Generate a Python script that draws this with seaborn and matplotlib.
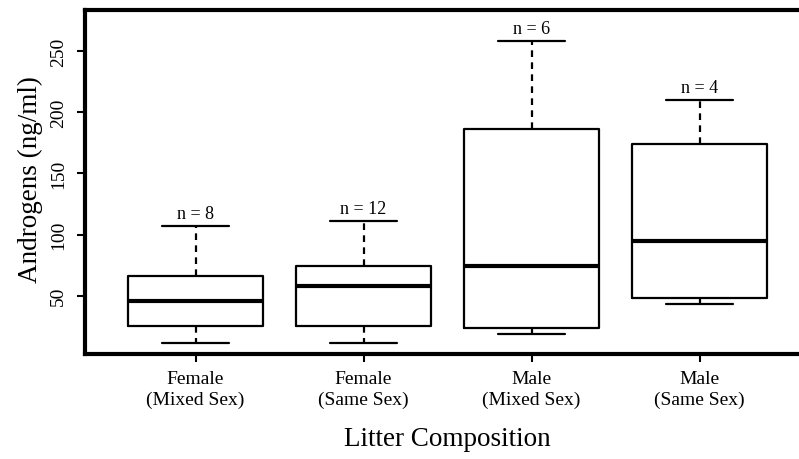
import matplotlib
matplotlib.use("Agg")
import matplotlib.pyplot as plt
import seaborn as sns
import pandas as pd

# Five-number summaries
groups = ["Female\n(Mixed Sex)", "Female\n(Same Sex)", "Male\n(Mixed Sex)", "Male\n(Same Sex)"]
whisker_low = [11, 11, 19, 43]
q1 = [25, 25, 24, 48]
median = [46, 58, 74, 95]
q3 = [66, 74, 186, 174]
whisker_high = [107, 111, 258, 210]
n_labels = ["n = 8", "n = 12", "n = 6", "n = 4"]
y_ticks = [50, 100, 150, 200, 250]

rows = []
for g, a, b, c, d, e in zip(groups, whisker_low, q1, median, q3, whisker_high):
    for v in (a, b, c, d, e):
        rows.append({"group": g, "value": v})
df = pd.DataFrame(rows)

sns.set_theme(style="white")
plt.rcParams["font.family"] = ["Liberation Serif", "DejaVu Serif"]
plt.rcParams["text.color"] = "black"
plt.rcParams["axes.labelcolor"] = "black"
plt.rcParams["xtick.color"] = "black"
plt.rcParams["ytick.color"] = "black"

fig = plt.figure(figsize=(7.99, 4.6), dpi=100)
W, H = 799, 460
left, right, top, bottom = 84.7, 810.4, 11, 355
ax = fig.add_axes([left / W, 1 - bottom / H, (right - left) / W, (bottom - top) / H])

sns.boxplot(data=df, x="group", y="value", order=groups, ax=ax,
            color="black", fill=False, width=0.8, whis=(0, 100),
            linewidth=1.6, linecolor="black",
            whiskerprops=dict(linestyle=(0, (3.0, 2.4)), linewidth=1.6),
            medianprops=dict(linewidth=3.0, color="black"),
            capprops=dict(linewidth=1.6),
            showfliers=False)

for i, (top_v, lab) in enumerate(zip(whisker_high, n_labels)):
    ax.annotate(lab, xy=(i, top_v), xytext=(0, 3), textcoords="offset points",
                ha="center", va="bottom", fontsize=13, color="black")

ax.set_xlim(-0.66, 3.66)
ax.set_ylim(2.4, 283.4)
ax.set_yticks(y_ticks)
ax.set_yticklabels([str(t) for t in y_ticks], rotation=90, va="center", fontsize=14)
ax.set_xticks(range(len(groups)))
ax.set_xticklabels(groups, fontsize=14, linespacing=1.25)
ax.tick_params(axis="both", direction="out", length=5.5, width=1.5, color="black",
               labelcolor="black", left=True, bottom=True)
ax.tick_params(axis="y", pad=7)
ax.tick_params(axis="x", pad=6)
ax.set_xlabel("")
ax.set_ylabel("")
for s in ax.spines.values():
    s.set_linewidth(3.0)
    s.set_color("black")

fig.text(30 / W, 1 - 180 / H, "Androgens (ng/ml)", rotation=90, ha="center", va="center",
         fontsize=19.5, color="black")
fig.text(447 / W, 1 - 440 / H, "Litter Composition", ha="center", va="center",
         fontsize=19.5, color="black")

fig.savefig("out.png", dpi=100, facecolor="white")
